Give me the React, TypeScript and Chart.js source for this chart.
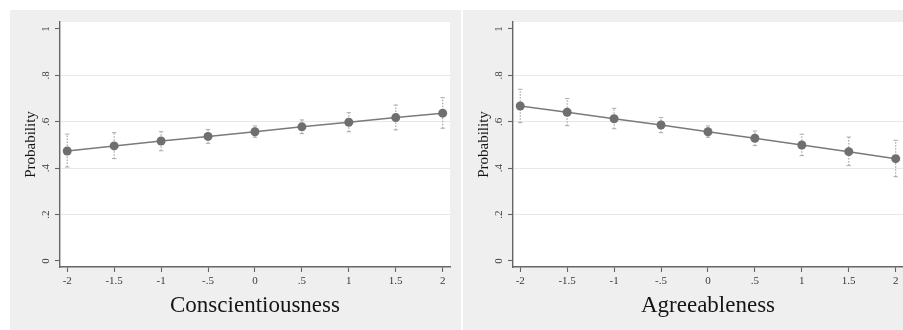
import React, { useEffect, useRef } from "react";
import { Chart, registerables } from "chart.js";

Chart.register(...registerables);

const xValues = [-2, -1.5, -1, -0.5, 0, 0.5, 1, 1.5, 2];
const xTickLabels = ["-2", "-1.5", "-1", "-.5", "0", ".5", "1", "1.5", "2"];
const yTickValues = [0, 0.2, 0.4, 0.6, 0.8, 1];
const yTickLabels = ["0", ".2", ".4", ".6", ".8", "1"];

const conscProb = [0.474, 0.496, 0.517, 0.537, 0.557, 0.578, 0.598, 0.618, 0.637];
const conscLow = [0.405, 0.441, 0.475, 0.507, 0.533, 0.549, 0.557, 0.565, 0.572];
const conscHigh = [0.547, 0.553, 0.557, 0.567, 0.582, 0.608, 0.639, 0.672, 0.704];

const agreeProb = [0.668, 0.641, 0.613, 0.586, 0.557, 0.529, 0.5, 0.471, 0.441];
const agreeLow = [0.596, 0.583, 0.57, 0.553, 0.533, 0.497, 0.454, 0.411, 0.363];
const agreeHigh = [0.74, 0.7, 0.658, 0.618, 0.582, 0.56, 0.546, 0.534, 0.52];

const FONT = "'Liberation Serif', 'Times New Roman', serif";

const whiteArea = {
  id: "whiteArea",
  beforeDraw(chart: any) {
    const { ctx, chartArea } = chart;
    ctx.save();
    ctx.fillStyle = "#ffffff";
    ctx.fillRect(chartArea.left, chartArea.top, chartArea.right - chartArea.left, chartArea.bottom - chartArea.top);
    ctx.restore();
  },
};

function makeConfig(title: string, prob: number[], low: number[], high: number[]): any {
  const errData: any[] = [];
  xValues.forEach((x, i) => {
    errData.push({ x, y: low[i] });
    errData.push({ x, y: high[i] });
    errData.push({ x, y: null });
  });
  return {
    type: "line",
    data: {
      datasets: [
        {
          data: xValues.map((x, i) => ({ x, y: prob[i] })),
          borderColor: "#7a7a7a",
          borderWidth: 1.5,
          pointRadius: 4.5,
          pointBackgroundColor: "#6f6f6f",
          pointBorderColor: "#6f6f6f",
          pointBorderWidth: 0,
          tension: 0,
        },
        {
          data: errData,
          borderColor: "#a5a5a5",
          borderWidth: 1.2,
          borderDash: [1.5, 1.5],
          spanGaps: false,
          pointStyle: "line",
          pointRadius: 2.2,
          pointBorderColor: "#ababab",
          pointBorderWidth: 1,
          pointBackgroundColor: "#ababab",
        },
      ],
    },
    options: {
      responsive: false,
      animation: false,
      events: [],
      layout: { padding: { top: 12, right: 11, left: 0, bottom: 0 } },
      plugins: { legend: { display: false }, tooltip: { enabled: false } },
      scales: {
        x: {
          type: "linear",
          min: -2.077,
          max: 2.078,
          afterBuildTicks: (s: any) => {
            s.ticks = xValues.map((v) => ({ value: v }));
          },
          afterFit: (s: any) => {
            s.height = 63;
          },
          ticks: {
            callback: (_v: any, i: number) => xTickLabels[i],
            font: { family: FONT, size: 11 },
            color: "#3a3a3a",
            padding: 3,
            maxRotation: 0,
            minRotation: 0,
          },
          grid: {
            display: true,
            drawOnChartArea: false,
            drawTicks: true,
            tickLength: 5,
            tickColor: "#666666",
            tickWidth: 1.1,
          },
          border: { display: true, color: "#666666", width: 1.4 },
          title: {
            display: true,
            text: title,
            font: { family: FONT, size: 23 },
            color: "#151515",
            padding: { top: 0, bottom: 10.5 },
          },
        },
        y: {
          type: "linear",
          min: -0.026,
          max: 1.03,
          afterBuildTicks: (s: any) => {
            s.ticks = yTickValues.map((v) => ({ value: v }));
          },
          afterFit: (s: any) => {
            s.width = 50;
          },
          ticks: {
            callback: (_v: any, i: number) => yTickLabels[i],
            font: { family: FONT, size: 11 },
            color: "#3a3a3a",
            minRotation: 90,
            maxRotation: 90,
            crossAlign: "center",
            padding: 5,
          },
          grid: {
            display: true,
            drawOnChartArea: true,
            drawTicks: true,
            tickLength: 5,
            tickColor: "#666666",
            tickWidth: 1.1,
            lineWidth: 1,
            color: (c: any) =>
              c.tick && c.tick.value > 0.01 && c.tick.value < 0.99 ? "#e8e8e8" : "rgba(0,0,0,0)",
          },
          border: { display: true, color: "#666666", width: 1.4 },
          title: {
            display: true,
            text: "Probability",
            font: { family: FONT, size: 15 },
            color: "#151515",
            padding: { top: 12, bottom: 0 },
          },
        },
      },
    },
    plugins: [whiteArea],
  };
}

function Panel(props: { left: number; title: string; prob: number[]; low: number[]; high: number[] }) {
  const ref = useRef<HTMLCanvasElement>(null);
  useEffect(() => {
    if (!ref.current) return;
    const chart = new Chart(ref.current, makeConfig(props.title, props.prob, props.low, props.high));
    return () => chart.destroy();
  }, []);
  return (
    <div
      style={{
        position: "absolute",
        left: props.left,
        top: 10,
        width: 451,
        height: 320,
        background: "#efefef",
      }}
    >
      <canvas ref={ref} width={451} height={320} style={{ display: "block", width: 451, height: 320 }} />
    </div>
  );
}

export default function App() {
  return (
    <div
      style={{
        position: "absolute",
        left: 0,
        top: 0,
        width: 903,
        height: 330,
        overflow: "hidden",
        background: "#ffffff",
      }}
    >
      <Panel left={10} title="Conscientiousness" prob={conscProb} low={conscLow} high={conscHigh} />
      <Panel left={463} title="Agreeableness" prob={agreeProb} low={agreeLow} high={agreeHigh} />
    </div>
  );
}
